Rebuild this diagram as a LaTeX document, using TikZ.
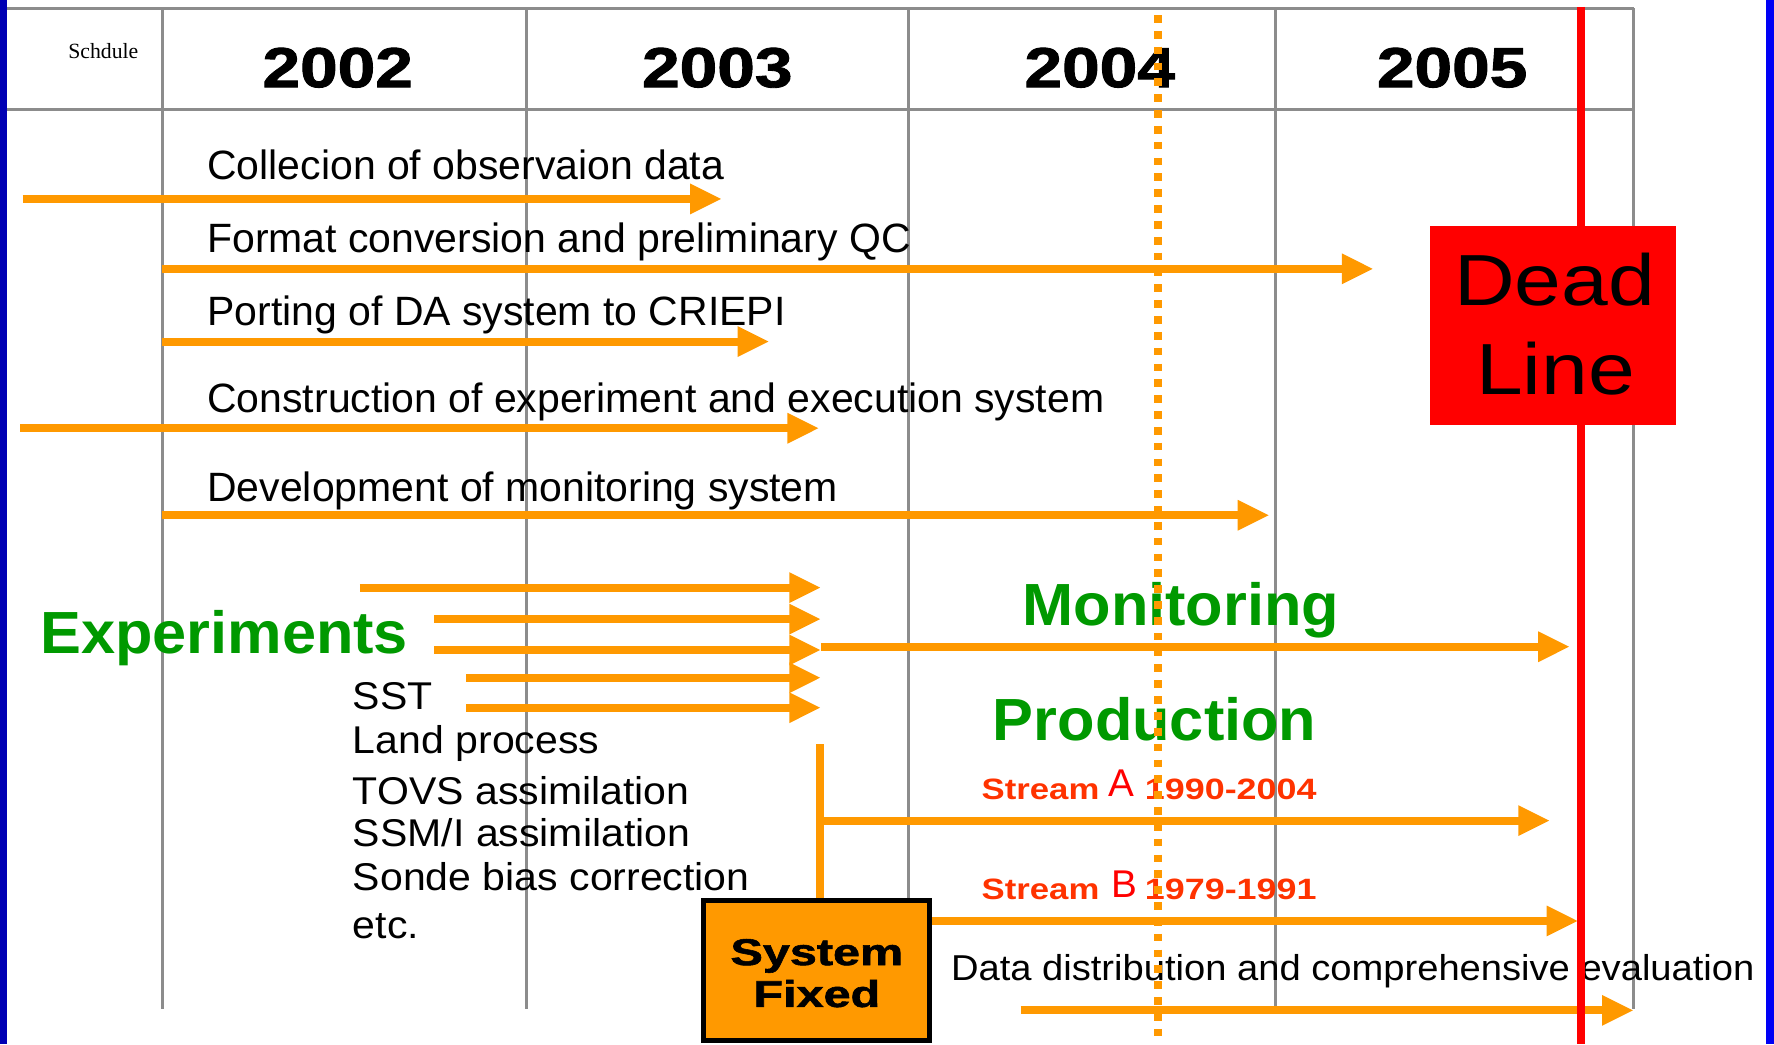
\documentclass[tikz,border=0pt]{standalone}
\usepackage{fontspec}
\usepackage{graphicx}
\setmainfont{Liberation Sans}
\newfontfamily\serifA{Liberation Serif}
\newfontfamily\heavyA{Liberation Sans}[BoldFeatures={FakeBold=1.5}]
\usetikzlibrary{arrows.meta}
\definecolor{orng}{RGB}{255,153,0}
\definecolor{gridc}{RGB}{140,140,140}
\definecolor{grn}{RGB}{0,153,0}
\definecolor{strm}{RGB}{255,51,0}
\definecolor{dlred}{RGB}{255,0,0}
\definecolor{lblue}{RGB}{0,0,180}
\definecolor{rblue}{RGB}{0,0,245}
\newcommand\xs[2]{\scalebox{#1}[1]{#2}}
\begin{document}
\begin{tikzpicture}[x=0.5pt,y=-0.5pt,
  txt/.style={inner sep=0pt, outer sep=0pt, anchor=base west},
  body/.style={txt, font=\fontsize{18.1}{20}\selectfont},
  listtxt/.style={txt, font=\fontsize{17.1}{19}\selectfont},
  green/.style={txt, text=grn, font=\fontsize{26.3}{28}\selectfont\bfseries},
  year/.style={inner sep=0pt, anchor=base, font=\heavyA\bfseries\fontsize{24.9}{26}\selectfont},
  strmb/.style={txt, text=strm, font=\fontsize{13}{14}\selectfont\bfseries},
  strml/.style={txt, text=dlred, font=\fontsize{17.1}{18}\selectfont},
  dltxt/.style={inner sep=0pt, anchor=base, font=\fontsize{32}{34}\selectfont},
  systxt/.style={inner sep=0pt, anchor=base, font=\heavyA\bfseries\fontsize{16.5}{18}\selectfont},
  sysboxstyle/.style={draw=black, line width=2.2pt, fill=orng, minimum width=99.8pt, minimum height=61.8pt, inner sep=0pt, outer sep=0pt},
  gridline/.style={draw=gridc, line width=1.3pt},
  arr/.style={draw=orng, line width=3.5pt, -{Triangle[length=14pt,width=12.5pt]}},
  orline/.style={draw=orng, line width=3.5pt},
]
\useasboundingbox (0,0) rectangle (1568,923);
\fill[white] (0,0) rectangle (1568,923);
\fill[lblue] (0,0) rectangle (6.5,923);
\fill[rblue] (1561,0) rectangle (1568,923);

% grid
\coordinate (gTL) at (6.5,7.4);
\coordinate (gTR) at (1444,7.4);
\coordinate (gHL) at (6.5,96.4);
\coordinate (gHR) at (1444,96.4);
\draw[gridline] (gTL) -- (gTR);
\draw[gridline] (gHL) -- (gHR);
\foreach \gx/\gn in {143.5/a,465.5/b,803/c,1127/d,1444/e}{
  \coordinate (v\gn t) at (\gx,7.4);
  \coordinate (v\gn b) at (\gx,892);
  \draw[gridline] (v\gn t) -- (v\gn b);
}

% header texts
\node[txt, font=\serifA\fontsize{9.6}{11}\selectfont] (sch) at (60.4,51.6) {Schdule};
\node[year] (y2002) at (298.5,77) {\xs{1.2}{2002}};
\node[year] (y2003) at (634,77) {\xs{1.2}{2003}};
\node[year] (y2004) at (972,77) {\xs{1.2}{2004}};
\node[year] (y2005) at (1283.5,77) {\xs{1.2}{2005}};

% task texts
\node[body] (t1) at (183.3,159) {Collecion of observaion data};
\node[body] (t2) at (183.3,223.3) {Format conversion and preliminary QC};
\node[body] (t3) at (183.3,287.3) {Porting of DA system to CRIEPI};
\node[body] (t4) at (183.3,364.7) {Construction of experiment and execution system};
\node[body] (t5) at (183.3,443.4) {Development of monitoring system};

\node[green] (gexp) at (35.5,577.4) {\xs{1.03}{Experiments}};
\node[green] (gmon) at (903.8,552.5) {\xs{1.03}{Monitoring}};
\node[green] (gpro) at (877.6,654.6) {\xs{1.03}{Production}};

\node[listtxt] (l1) at (312,627) {\xs{1.06}{SST}};
\node[listtxt] (l2) at (312,665.9) {\xs{1.06}{Land process}};
\node[listtxt] (l3) at (312,710.7) {\xs{1.06}{TOVS assimilation}};
\node[listtxt] (l4) at (312,748.4) {\xs{1.06}{SSM/I assimilation}};
\node[listtxt] (l5) at (312,787.3) {\xs{1.06}{Sonde bias correction}};
\node[listtxt] (l6) at (312,829.4) {\xs{1.06}{etc.}};

\node[strmb] (saw) at (867.7,706.5) {\xs{1.18}{Stream}};
\node[strml] (sal) at (979.6,704) {A};
\node[strmb] (say) at (1012,706.5) {\xs{1.22}{1990-2004}};
\node[strmb] (sbw) at (867.7,795) {\xs{1.18}{Stream}};
\node[strml] (sbl) at (982,793) {B};
\node[strmb] (sby) at (1012,795) {\xs{1.22}{1979-1991}};

\node[txt, font=\fontsize{15.9}{17}\selectfont] (ddist) at (840.6,866.8) {\xs{1.06}{Data distribution and comprehensive evaluation}};

% arrows
\coordinate (a1s) at (20,175.8);   \coordinate (a1e) at (638,175.8);
\coordinate (a2s) at (143,237.6);  \coordinate (a2e) at (1214,237.6);
\coordinate (a3s) at (143,301.9);  \coordinate (a3e) at (680,301.9);
\coordinate (a4s) at (18,378.5);   \coordinate (a4e) at (724,378.5);
\coordinate (a5s) at (143,455.4);  \coordinate (a5e) at (1122,455.4);
\draw[arr] (a1s) -- (a1e);
\draw[arr] (a2s) -- (a2e);
\draw[arr] (a3s) -- (a3e);
\draw[arr] (a4s) -- (a4e);
\draw[arr] (a5s) -- (a5e);

\coordinate (e1s) at (318,519.4);  \coordinate (e1e) at (725.6,519.4);
\coordinate (e2s) at (384,547.2);  \coordinate (e2e) at (725.6,547.2);
\coordinate (e3s) at (384,574.5);  \coordinate (e3e) at (725.6,574.5);
\coordinate (e4s) at (412,599);    \coordinate (e4e) at (725.6,599);
\coordinate (e5s) at (412,625.5);  \coordinate (e5e) at (725.6,625.5);
\draw[arr] (e1s) -- (e1e);
\draw[arr] (e2s) -- (e2e);
\draw[arr] (e3s) -- (e3e);
\draw[arr] (e4s) -- (e4e);
\draw[arr] (e5s) -- (e5e);

\coordinate (ms) at (725.6,571.6); \coordinate (me) at (1387.6,571.6);
\draw[arr] (ms) -- (me);

% production streams fed from the System Fixed box
\coordinate (vtop) at (724.8,657.6);
\coordinate (vbot) at (724.8,796);
\coordinate (saS) at (723.05,725.3); \coordinate (saE) at (1370,725.3);
\coordinate (sbS) at (824,814);      \coordinate (sbE) at (1395,814);
\draw[orline] (vtop) -- (vbot);
\draw[arr] (saS) -- (saE);
\draw[arr] (sbS) -- (sbE);
\coordinate (ds) at (902,893); \coordinate (de) at (1444,893);
\draw[arr] (ds) -- (de);

\node[sysboxstyle] (sysbox) at (722,858) {};
\node[systxt] (sys1) at (722,853) {\xs{1.3}{System}};
\node[systxt] (sys2) at (722,890) {\xs{1.3}{Fixed}};

% dotted now line
\coordinate (dtop) at (1023.6,13.3); \coordinate (dbot) at (1023.6,923);
\draw[orline, dash pattern=on 3.4pt off 3.6pt] (dtop) -- (dbot);

% dead line
\coordinate (rtop) at (1397.6,6); \coordinate (rbot) at (1397.6,923);
\draw[draw=dlred, line width=3.5pt] (rtop) -- (rbot);
\node[fill=dlred, minimum width=108.5pt, minimum height=88pt, inner sep=0pt] (dlbox) at (1372.5,287.75) {};
\node[dltxt] (dl1) at (1374,270) {\xs{1.16}{Dead}};
\node[dltxt] (dl2) at (1375,349) {\xs{1.16}{Line}};
\end{tikzpicture}
\end{document}
